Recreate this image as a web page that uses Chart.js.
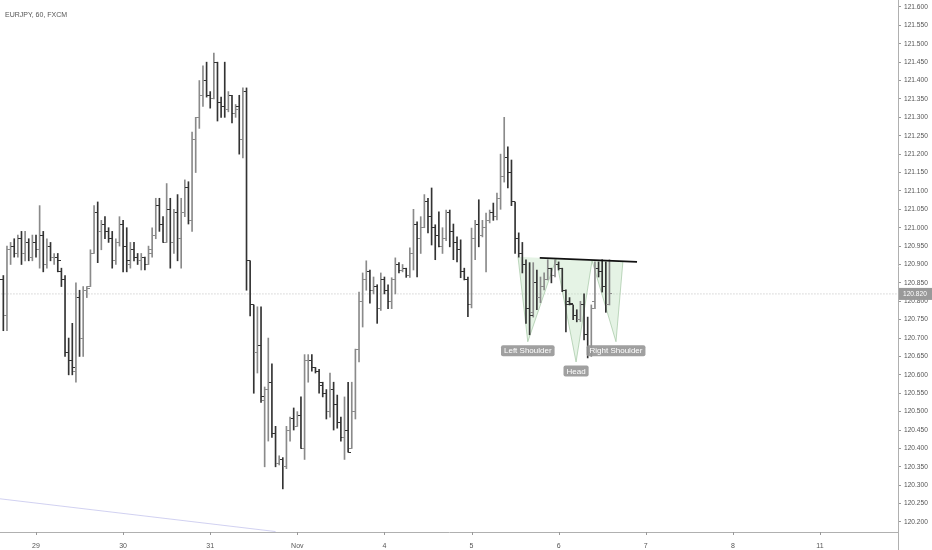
<!DOCTYPE html>
<html>
<head>
<meta charset="utf-8">
<title>EURJPY, 60, FXCM</title>
<script src="https://cdn.jsdelivr.net/npm/chart.js@4.4.0/dist/chart.umd.min.js"></script>
<style>
  html, body { margin: 0; padding: 0; background: #fff; }
  #wrap { width: 932px; height: 550px; }
</style>
</head>
<body>
<div id="wrap"><canvas id="myChart"></canvas></div>
<script>
// hourly bars, bar index 0 = Oct 29 00:00 (weekend removed)
var firstBar = -9;

var opens = [
    120.86, 120.76, 120.94, 120.95, 120.93, 120.97, 120.93, 120.96,
    120.92, 120.96, 120.94, 120.98, 120.90, 120.95, 120.92, 120.92,
    120.88, 120.86, 120.66, 120.64, 120.61, 120.81, 120.70, 120.83,
    120.84, 120.93, 121.04, 120.99, 121.01, 120.99, 120.97, 120.91,
    120.96, 121.01, 120.95, 120.90, 120.94, 120.92, 120.91, 120.92,
    120.90, 120.93, 120.98, 121.06, 121.01, 120.96, 121.05, 120.96,
    121.04, 120.97, 121.04, 121.11, 121.02, 121.24, 121.30, 121.36,
    121.40, 121.36, 121.35, 121.45, 121.34, 121.33, 121.32, 121.36,
    121.31, 121.33, 121.24, 121.37, 120.91, 120.79, 120.66, 120.68,
    120.53, 120.56, 120.58, 120.44, 120.36, 120.37, 120.35, 120.45,
    120.48, 120.46, 120.49, 120.40, 120.64, 120.64, 120.62, 120.61,
    120.57, 120.55, 120.50, 120.56, 120.52, 120.47, 120.43, 120.45,
    120.40, 120.50, 120.67, 120.80, 120.86, 120.88, 120.83, 120.84,
    120.78, 120.86, 120.83, 120.80, 120.86, 120.90, 120.885, 120.89,
    120.87, 120.93, 121.01, 120.97, 121.00, 121.07, 121.03, 121.00,
    120.98, 120.95, 120.97, 121.04, 120.99, 120.96, 120.94, 120.88,
    120.86, 120.79, 120.97, 121.01, 120.98, 121.00, 121.02, 121.04,
    121.03, 121.08, 121.14, 121.19, 121.15, 121.07, 120.97, 120.93,
    120.90, 120.78, 120.77, 120.85, 120.81, 120.84, 120.86, 120.89,
    120.87, 120.90, 120.89, 120.83, 120.80, 120.79, 120.76, 120.75,
    120.79, 120.71, 120.66, 120.80, 120.89, 120.88, 120.84, 120.79
];
var highs = [
    120.87, 120.95, 120.96, 120.97, 120.98, 120.99, 120.99, 120.97,
    120.98, 120.98, 121.06, 120.99, 120.97, 120.96, 120.93, 120.93,
    120.89, 120.87, 120.70, 120.74, 120.85, 120.83, 120.84, 120.84,
    120.94, 121.06, 121.07, 121.02, 121.03, 121.00, 120.99, 120.97,
    121.03, 121.02, 121.00, 120.96, 120.96, 120.93, 120.93, 120.92,
    120.95, 121.00, 121.08, 121.08, 121.03, 121.12, 121.08, 121.05,
    121.09, 121.08, 121.13, 121.125, 121.26, 121.30, 121.40, 121.44,
    121.45, 121.37, 121.475, 121.45, 121.355, 121.45, 121.37, 121.36,
    121.335, 121.36, 121.38, 121.38, 120.91, 120.79, 120.785, 120.785,
    120.567, 120.70, 120.63, 120.46, 120.38, 120.375, 120.46, 120.485,
    120.51, 120.50, 120.54, 120.655, 120.655, 120.655, 120.62, 120.615,
    120.58, 120.56, 120.605, 120.58, 120.545, 120.485, 120.54, 120.58,
    120.58, 120.67, 120.825, 120.877, 120.91, 120.885, 120.866, 120.845,
    120.877, 120.866, 120.845, 120.864, 120.918, 120.905, 120.90, 120.89,
    120.945, 121.05, 121.016, 121.03, 121.09, 121.08, 121.108, 121.008,
    121.043, 121.00, 121.048, 121.048, 121.01, 120.975, 120.967, 120.89,
    120.866, 120.999, 121.02, 121.076, 121.02, 121.04, 121.048, 121.067,
    121.094, 121.20, 121.30, 121.22, 121.184, 121.07, 120.986, 120.96,
    120.913, 120.905, 120.905, 120.885, 120.866, 120.877, 120.913, 120.89,
    120.913, 120.907, 120.89, 120.831, 120.81, 120.79, 120.777, 120.80,
    120.82, 120.757, 120.79, 120.907, 120.907, 120.913, 120.907, 120.913
];
var lows = [
    120.72, 120.72, 120.90, 120.92, 120.92, 120.90, 120.91, 120.91,
    120.91, 120.92, 120.89, 120.88, 120.89, 120.91, 120.90, 120.88,
    120.84, 120.65, 120.60, 120.60, 120.58, 120.65, 120.65, 120.81,
    120.84, 120.93, 120.905, 120.94, 120.97, 120.96, 120.89, 120.90,
    120.95, 120.88, 120.88, 120.89, 120.91, 120.90, 120.885, 120.885,
    120.90, 120.92, 120.97, 120.99, 120.96, 120.96, 120.89, 120.93,
    120.91, 120.89, 121.03, 121.01, 120.99, 121.15, 121.27, 121.33,
    121.355, 121.325, 121.35, 121.29, 121.30, 121.30, 121.315, 121.285,
    121.30, 121.20, 121.19, 120.83, 120.76, 120.55, 120.605, 120.525,
    120.35, 120.42, 120.43, 120.35, 120.355, 120.29, 120.345, 120.42,
    120.45, 120.46, 120.40, 120.37, 120.58, 120.61, 120.605, 120.55,
    120.54, 120.48, 120.485, 120.45, 120.455, 120.42, 120.37, 120.39,
    120.40, 120.48, 120.635, 120.73, 120.83, 120.795, 120.82, 120.74,
    120.775, 120.82, 120.78, 120.78, 120.82, 120.877, 120.88, 120.865,
    120.865, 120.885, 120.866, 120.93, 121.00, 120.986, 120.953, 120.913,
    120.948, 120.93, 120.965, 120.948, 120.913, 120.907, 120.864, 120.858,
    120.758, 120.782, 120.913, 120.948, 120.975, 120.88, 121.013, 121.02,
    121.021, 121.05, 121.124, 121.108, 121.06, 120.93, 120.92, 120.877,
    120.74, 120.709, 120.757, 120.777, 120.796, 120.831, 120.858, 120.85,
    120.866, 120.885, 120.826, 120.717, 120.79, 120.75, 120.744, 120.745,
    120.695, 120.646, 120.65, 120.78, 120.866, 120.825, 120.77, 120.79
];
var closes = [
    120.76, 120.94, 120.95, 120.93, 120.97, 120.93, 120.96, 120.92,
    120.96, 120.94, 120.98, 120.90, 120.95, 120.92, 120.92, 120.91,
    120.86, 120.66, 120.64, 120.62, 120.81, 120.70, 120.83, 120.835,
    120.93, 121.04, 120.99, 121.01, 120.99, 120.97, 120.91, 120.96,
    121.01, 120.95, 120.91, 120.94, 120.92, 120.91, 120.92, 120.90,
    120.94, 120.98, 121.06, 121.01, 120.96, 121.05, 120.96, 121.04,
    120.97, 121.04, 121.11, 121.02, 121.24, 121.30, 121.36, 121.40,
    121.36, 121.35, 121.45, 121.34, 121.33, 121.32, 121.36, 121.31,
    121.32, 121.24, 121.37, 120.91, 120.79, 120.66, 120.68, 120.54,
    120.56, 120.58, 120.44, 120.36, 120.37, 120.35, 120.45, 120.48,
    120.46, 120.49, 120.40, 120.64, 120.64, 120.62, 120.61, 120.58,
    120.55, 120.50, 120.56, 120.52, 120.47, 120.43, 120.45, 120.39,
    120.50, 120.67, 120.80, 120.86, 120.88, 120.83, 120.84, 120.78,
    120.86, 120.83, 120.80, 120.86, 120.90, 120.885, 120.89, 120.87,
    120.93, 121.01, 120.97, 121.00, 121.07, 121.03, 121.00, 120.98,
    120.95, 120.97, 121.04, 120.99, 120.96, 120.94, 120.88, 120.86,
    120.79, 120.97, 121.01, 120.98, 121.00, 121.02, 121.04, 121.03,
    121.08, 121.14, 121.19, 121.15, 121.07, 120.97, 120.93, 120.90,
    120.78, 120.76, 120.85, 120.81, 120.84, 120.86, 120.89, 120.87,
    120.90, 120.89, 120.83, 120.79, 120.795, 120.76, 120.75, 120.79,
    120.71, 120.66, 120.78, 120.89, 120.88, 120.84, 120.79, 120.82
];

var dayTicks = [0, 24, 48, 72, 96, 120, 144, 168, 192, 216];
var dayLabels = ['29', '30', '31', 'Nov', '4', '5', '6', '7', '8', '11'];
var lastPrice = 120.820;

// head and shoulders drawing (bar index / price)
var hsX = [132.8, 135.5, 143.3, 148.8, 153.2, 159.8, 161.7];
var hsY = [120.921, 120.690, 120.915, 120.635, 120.910, 120.690, 120.907];
var hsNames = ['Left Shoulder', 'Head', 'Right Shoulder'];
var neckX = [138.8, 165.6];
var neckY = [120.918, 120.907];
// old trend line, lower left
var oldX = [-12, 66];
var oldY = [120.2655, 120.174];

var upColor = '#8a8a8a';
var downColor = '#333333';
var axisFont = '"Liberation Sans", Arial, sans-serif';

function isUp(k) { return closes[k] >= opens[k]; }

function tickImage(color, left) {
    var c = document.createElement('canvas');
    c.width = 6;
    c.height = 1;
    var g = c.getContext('2d');
    g.fillStyle = color;
    g.fillRect(left ? 0 : 3, 0, 3, 1);
    return c;
}
var openUp = tickImage(upColor, true), openDown = tickImage(downColor, true);
var closeUp = tickImage(upColor, false), closeDown = tickImage(downColor, false);

function pts(xs, ys) {
    return xs.map(function (v, k) { return { x: v, y: ys[k] }; });
}

var overlay = {
    id: 'overlay',
    afterDatasetsDraw: function (chart) {
        var ctx = chart.ctx, xs = chart.scales.x, ys = chart.scales.y;
        ctx.save();
        ctx.font = '8px ' + axisFont;
        ctx.textAlign = 'center';
        ctx.textBaseline = 'middle';
        [1, 3, 5].forEach(function (p, n) {
            var px = xs.getPixelForValue(hsX[p]);
            var py = ys.getPixelForValue(hsY[p]) + 9;
            var w = ctx.measureText(hsNames[n]).width + 6;
            ctx.fillStyle = 'rgba(150,150,150,0.9)';
            ctx.beginPath();
            ctx.roundRect(px - w / 2, py - 5.5, w, 11, 2);
            ctx.fill();
            ctx.fillStyle = '#ffffff';
            ctx.fillText(hsNames[n], px, py + 0.5);
        });
        ctx.restore();
    },
    afterDraw: function (chart) {
        var ctx = chart.ctx, xs = chart.scales.x, ys = chart.scales.y, area = chart.chartArea;
        ctx.save();
        ctx.strokeStyle = '#b0b0b0';
        ctx.lineWidth = 1;
        ctx.beginPath();
        // y axis line continues to the bottom
        ctx.moveTo(area.right + 0.5, area.bottom);
        ctx.lineTo(area.right + 0.5, chart.height);
        ctx.stroke();
        // day tick marks under the time axis
        ctx.strokeStyle = '#999999';
        ctx.beginPath();
        dayTicks.forEach(function (v) {
            var px = Math.round(xs.getPixelForValue(v)) + 0.5;
            ctx.moveTo(px, area.bottom);
            ctx.lineTo(px, area.bottom + 3);
        });
        ctx.stroke();
        // last price box
        var py = ys.getPixelForValue(lastPrice);
        ctx.fillStyle = '#999999';
        ctx.fillRect(area.right + 1, py - 6, chart.width - area.right, 12);
        ctx.fillStyle = '#ffffff';
        ctx.font = '6.6px ' + axisFont;
        ctx.textAlign = 'left';
        ctx.textBaseline = 'middle';
        ctx.fillText(lastPrice.toFixed(3), area.right + 5, py + 0.5);
        // symbol title
        ctx.fillStyle = '#555555';
        ctx.font = '7px ' + axisFont;
        ctx.fillText('EURJPY, 60, FXCM', 5, 15);
        ctx.restore();
    }
};

var ctx = document.getElementById('myChart').getContext('2d');
var myChart = new Chart(ctx, {
    type: 'bar',
    data: {
        datasets: [{
            type: 'bar',
            data: highs.map(function (h, k) { return { x: firstBar + k, y: [lows[k], h] }; }),
            backgroundColor: function (c) { return isUp(c.dataIndex) ? upColor : downColor; },
            barThickness: 1,
            grouped: false,
            order: 2
        }, {
            type: 'scatter',
            data: opens.map(function (o, k) { return { x: firstBar + k, y: o }; }),
            pointStyle: function (c) { return isUp(c.dataIndex) ? openUp : openDown; },
            pointRadius: 3,
            order: 1
        }, {
            type: 'scatter',
            data: closes.map(function (v, k) { return { x: firstBar + k, y: v }; }),
            pointStyle: function (c) { return isUp(c.dataIndex) ? closeUp : closeDown; },
            pointRadius: 3,
            order: 1
        }, {
            type: 'line',
            data: pts(hsX, hsY),
            borderColor: 'rgba(150,190,150,0.6)',
            borderWidth: 1,
            backgroundColor: 'rgba(190,225,190,0.4)',
            fill: 'shape',
            pointRadius: 0,
            tension: 0,
            order: 5
        }, {
            type: 'line',
            data: pts(neckX, neckY),
            borderColor: '#111111',
            borderWidth: 1.6,
            pointRadius: 0,
            order: 0
        }, {
            type: 'line',
            data: pts(oldX, oldY),
            borderColor: 'rgba(190,190,235,0.7)',
            borderWidth: 1,
            pointRadius: 0,
            order: 6
        }, {
            type: 'line',
            data: [{ x: -12, y: lastPrice }, { x: 240, y: lastPrice }],
            borderColor: '#bdbdbd',
            borderWidth: 1,
            borderDash: [1, 2],
            pointRadius: 0,
            order: 6
        }]
    },
    options: {
        responsive: true,
        maintainAspectRatio: false,
        animation: false,
        layout: { padding: 0, autoPadding: false },
        plugins: {
            legend: { display: false },
            tooltip: { enabled: false }
        },
        events: [],
        scales: {
            x: {
                type: 'linear',
                min: -9.92,
                max: 237.5,
                offset: false,
                grid: { display: false },
                border: { display: true, color: '#b0b0b0', width: 1 },
                afterBuildTicks: function (s) {
                    s.ticks = dayTicks.map(function (v) { return { value: v }; });
                },
                ticks: {
                    autoSkip: false,
                    maxRotation: 0,
                    padding: 2,
                    color: '#555555',
                    font: { family: axisFont, size: 7 },
                    callback: function (v) { return dayLabels[dayTicks.indexOf(v)]; }
                },
                afterFit: function (s) {
                    s.height = 18;
                    s.paddingLeft = 0;
                    s.paddingRight = 0;
                }
            },
            y: {
                position: 'right',
                min: 120.1728,
                max: 121.619,
                grid: { display: true, offset: false, drawOnChartArea: false, tickLength: 3, color: '#999999' },
                border: { display: true, color: '#b0b0b0', width: 1 },
                ticks: {
                    stepSize: 0.05,
                    includeBounds: false,
                    autoSkip: false,
                    padding: 3,
                    color: '#555555',
                    font: { family: axisFont, size: 6.6 },
                    callback: function (v) { return v.toFixed(3); }
                },
                afterFit: function (s) {
                    s.width = 34;
                    s.paddingTop = 0;
                    s.paddingBottom = 0;
                }
            }
        }
    },
    plugins: [overlay]
});
</script>
</body>
</html>
